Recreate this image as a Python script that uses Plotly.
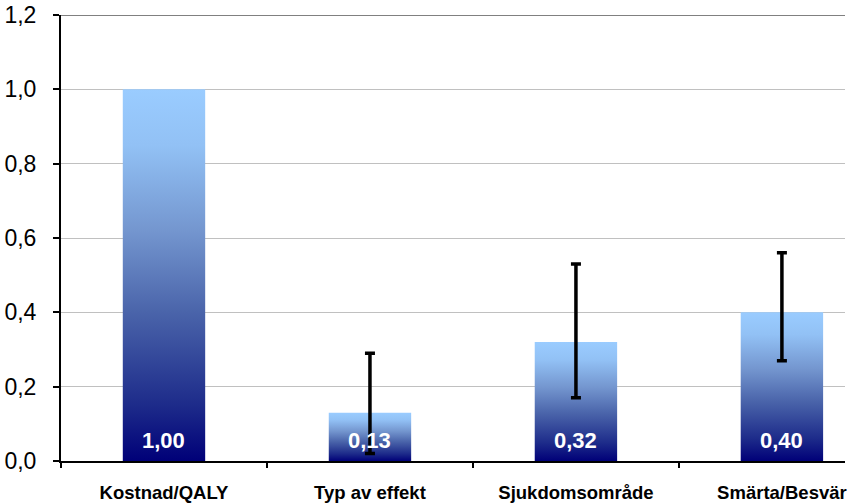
import plotly.graph_objects as go

# Data
categories = ["Kostnad/QALY", "Typ av effekt", "Sjukdomsområde", "Smärta/Besvär"]
values = [1.00, 0.13, 0.32, 0.40]
ci_low = [None, 0.02, 0.17, 0.27]
ci_high = [None, 0.29, 0.53, 0.56]
y_ticks = [0.0, 0.2, 0.4, 0.6, 0.8, 1.0, 1.2]

BAR_HALF = 0.2
FONT = "Liberation Sans, Arial, sans-serif"
GRADIENT = [
    [0.0, "#000078"],
    [0.15, "#1d2b8a"],
    [0.4, "#4a64aa"],
    [0.62, "#7496cf"],
    [0.85, "#92c1f5"],
    [1.0, "#9accff"],
]

fig = go.Figure()

# Gradient-filled bars, one trace per bar so each gets its own vertical ramp
for i, v in enumerate(values):
    xs = [i - BAR_HALF, i + BAR_HALF, i + BAR_HALF, i - BAR_HALF, i - BAR_HALF]
    ys = [0, 0, v, v, 0]
    fig.add_trace(go.Scatter(
        x=xs, y=ys, mode="lines", fill="toself",
        line=dict(width=0, color="rgba(0,0,0,0)"),
        fillgradient=dict(type="vertical", colorscale=GRADIENT),
        hoverinfo="skip", showlegend=False,
    ))

# Confidence intervals
err_x, err_y, err_plus, err_minus = [], [], [], []
for i, (v, lo, hi) in enumerate(zip(values, ci_low, ci_high)):
    if lo is None:
        continue
    err_x.append(i)
    err_y.append(v)
    err_plus.append(hi - v)
    err_minus.append(v - lo)

fig.add_trace(go.Scatter(
    x=err_x, y=err_y, mode="markers",
    marker=dict(size=1, color="rgba(0,0,0,0)"),
    error_y=dict(type="data", symmetric=False, array=err_plus, arrayminus=err_minus,
                 color="black", thickness=3.5, width=5),
    showlegend=False, hoverinfo="skip",
))

# Value labels at the foot of each bar
for i, v in enumerate(values):
    fig.add_annotation(
        x=i, y=0, xref="x", yref="y", yanchor="middle", yshift=21,
        text=f"{v:.2f}".replace(".", ","), showarrow=False,
        font=dict(family=FONT, size=22, color="white", weight="bold"),
    )

# Darker frame line at the top of the value axis
fig.add_shape(type="line", xref="paper", yref="y", x0=0, x1=1, y0=1.2, y1=1.2,
              line=dict(color="#808080", width=2))

x_max = -0.5 + (847 - 61) / 206.5

fig.update_layout(
    width=847, height=503,
    margin=dict(l=61, r=0, t=15, b=42),
    paper_bgcolor="white", plot_bgcolor="white",
    separators=", ",
    xaxis=dict(
        range=[-0.5, x_max], tickvals=list(range(len(categories))), ticktext=categories,
        ticks="outside", ticklen=14, tickcolor="rgba(0,0,0,0)",
        ticklabeloverflow="allow",
        tickfont=dict(family=FONT, size=18.5, color="black", weight="bold"),
        showline=True, linecolor="black", linewidth=2,
        showgrid=False, zeroline=False, fixedrange=True,
    ),
    xaxis2=dict(
        range=[-0.5, x_max], overlaying="x", side="bottom",
        tickvals=[i - 0.5 for i in range(len(categories) + 1)],
        showticklabels=False, ticks="outside", ticklen=6, tickwidth=2, tickcolor="black",
        showline=False, showgrid=False, zeroline=False, fixedrange=True,
    ),
    yaxis=dict(
        range=[0, 1.2], tickvals=y_ticks, tickformat=".1f",
        ticks="outside", ticklen=6, tickwidth=2, tickcolor="black",
        ticklabelstandoff=12,
        tickfont=dict(family=FONT, size=23, color="black"),
        showline=True, linecolor="black", linewidth=2,
        showgrid=True, gridcolor="#c0c0c0", gridwidth=1,
        zeroline=False, fixedrange=True,
    ),
)

# Anchor a hidden trace to xaxis2 so its boundary ticks are drawn
fig.add_trace(go.Scatter(x=[0], y=[0], xaxis="x2", mode="markers",
                         marker=dict(size=1, color="rgba(0,0,0,0)"),
                         showlegend=False, hoverinfo="skip"))

fig.write_html("out.html")
